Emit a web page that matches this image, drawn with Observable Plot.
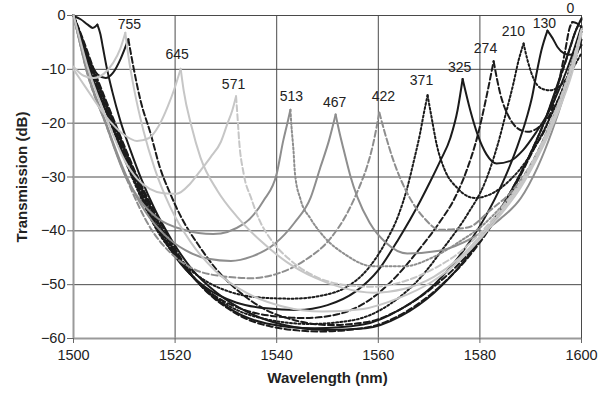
<!DOCTYPE html>
<html>
<head>
<meta charset="utf-8">
<script src="https://cdn.jsdelivr.net/npm/d3@7"></script>
<script src="https://cdn.jsdelivr.net/npm/@observablehq/plot@0.6"></script>
<style>
  html, body { margin: 0; padding: 0; background: #fff; }
  #chart { width: 613px; height: 393px; }
</style>
</head>
<body>
<div id="chart"></div>
<script>
// ---- axis ticks ----
const wavelengthTicks = [1500, 1520, 1540, 1560, 1580, 1600];
const dbTicks = [-60, -50, -40, -30, -20, -10, 0];

// ---- peak labels (strain values) and where they are written ----
const peakLabels = ["0", "130", "210", "274", "325", "371", "422", "467", "513", "571", "645", "755"];
const labelX = [1597.8, 1592.7, 1586.6, 1581.1, 1576.0, 1568.5, 1561.0, 1551.4, 1542.9, 1531.5, 1520.4, 1511.0];
const labelY = [1.3, -1.5, -3.0, -6.2, -9.6, -12.1, -15.0, -16.1, -15.0, -12.8, -7.2, -1.7];

// ---- transmission spectra, [wavelength nm, dB]; left and right of each cusp ----
const x2_L = [[1500,-0.1],[1501.4,-0.7],[1502.8,-1.7],[1503.8,-2.3],[1504.7,-1.7]];
const x2_R = [[1504.7,-1.7],[1505.3,-3.5],[1505.8,-6],[1506.5,-9.5],[1507.6,-14],[1509.2,-19.5],[1511.2,-25],[1513.4,-30.5],[1516,-36],[1519.2,-41.5],[1523.2,-47],[1528.2,-51.5],[1534.5,-55.2],[1541.5,-57.5],[1549.5,-58.4],[1557.5,-58.1],[1564.5,-55.8],[1571,-51.5],[1577,-45.5],[1582,-39],[1586.2,-32.5],[1589.8,-26],[1592.8,-19.5],[1595.2,-13],[1597.2,-7.5],[1598.8,-3],[1600,-0.5]];

const x1_L = [[1500,0],[1501.5,-4],[1503.2,-8.5],[1504.8,-11],[1506.3,-11.6],[1507.8,-10.6],[1509.3,-8],[1510.8,-4.4]];
const x1_R = [[1510.8,-4.4],[1511.8,-9.6],[1513.2,-15.8],[1515.2,-22],[1517,-28.2],[1519,-33],[1521.5,-38],[1524.5,-42.5],[1528,-47],[1532,-50.8],[1537.5,-54.5],[1543.5,-56.6],[1550.5,-57.5],[1557.5,-57],[1564.5,-54.5],[1571,-50.3],[1577,-45],[1582,-39],[1586.5,-32],[1590,-25.5],[1593,-19],[1595.5,-12.5],[1597.6,-6.5],[1599,-2.5],[1600,-0.8]];

const s0_L = [[1500,0],[1501.7,-4],[1504,-10],[1508.2,-20],[1512.6,-30],[1518,-40],[1524,-49],[1531,-54.8],[1539,-57.8],[1548.5,-58.7],[1558,-57.9],[1565.5,-55],[1572.5,-50],[1578.5,-44],[1583,-38],[1587,-31.5],[1590.5,-25],[1593.5,-19.5],[1595.5,-12.5],[1596.8,-6.5],[1597.6,-2.5],[1598.2,-1.2]];
const s0_R = [[1598.2,-1.2],[1599,-1.4],[1600,-2.2]];

const s130_L = [[1500,0],[1501.6,-4],[1503.8,-10],[1508,-20],[1512.4,-30],[1517.6,-40],[1523.5,-48.5],[1530,-54],[1538,-57.2],[1547.5,-58.1],[1557,-57.4],[1564.5,-54.5],[1571,-50],[1576.5,-44],[1581,-37.5],[1584.5,-31],[1587.3,-24.5],[1589.2,-19],[1590.3,-15],[1591.1,-11],[1592.1,-6.5],[1593.3,-2.8]];
const s130_R = [[1593.3,-2.8],[1594.3,-4.2],[1595.3,-5.9],[1596.5,-7],[1597.8,-7.3],[1599,-6.8],[1600,-5.5]];

const s210_L = [[1500,0],[1501.5,-4],[1503.6,-10],[1507.8,-20],[1512.2,-30],[1517.3,-40],[1523,-48],[1529,-53],[1536,-56],[1546.5,-57.3],[1555,-56.6],[1562,-53.8],[1568,-49],[1573,-43],[1577.5,-37],[1581,-31],[1583.5,-24],[1585.3,-17.5],[1586.6,-12.6],[1587.6,-8.4],[1588.6,-5.2]];
const s210_R = [[1588.6,-5.2],[1589.4,-8.4],[1590.6,-11.8],[1592,-13.5],[1593.7,-13.9],[1595.3,-13.4],[1597.2,-11.5],[1598.8,-9],[1600,-7]];

const s274_L = [[1500,0],[1501.4,-4],[1503.4,-10],[1507.6,-20],[1512,-30],[1517,-40],[1522,-47],[1527,-51.5],[1533,-54.5],[1539,-55.8],[1545.5,-56.2],[1552,-55.5],[1558,-53],[1563.5,-48.5],[1568,-43.5],[1572,-38.5],[1575,-34],[1577.5,-28.5],[1579.5,-22.5],[1581.2,-15.5],[1582.7,-8.5]];
const s274_R = [[1582.7,-8.5],[1584,-14.5],[1585.8,-19],[1587.5,-21],[1589.4,-21.6],[1591.5,-20.8],[1593.5,-18.8],[1595.5,-15.5],[1597.5,-11.5],[1599,-7.5],[1600,-4.5]];

const s325_L = [[1500,0],[1501.3,-4],[1503.2,-10],[1507.4,-20],[1511.7,-30],[1516.8,-40],[1521,-46],[1526,-50.5],[1532,-53.3],[1538,-54.4],[1544,-54.7],[1550,-53.8],[1555.5,-51.3],[1560,-47.3],[1564,-41.5],[1568.3,-34.4],[1570.3,-30.7],[1572.2,-27],[1574.2,-22.7],[1575.6,-17.6],[1576.6,-11.8]];
const s325_R = [[1576.6,-11.8],[1578.1,-17.6],[1579.5,-22],[1581.3,-25.8],[1583.3,-27.5],[1586,-27],[1588.5,-25],[1591,-21.8],[1593.5,-18],[1596,-12.8],[1598,-7.8],[1599.5,-3.5],[1600,-2]];

const s371_L = [[1500,0],[1501.3,-4],[1503.2,-10],[1507.3,-20],[1511.5,-30],[1516.5,-40],[1520.5,-45],[1525.5,-49],[1531,-51.4],[1537,-52.4],[1543,-52.6],[1549,-52],[1554,-50.3],[1558,-47],[1561.5,-42],[1564,-37],[1565.7,-32],[1567,-27],[1568.2,-22],[1569,-18],[1569.7,-14.8]];
const s371_R = [[1569.7,-14.8],[1570.5,-19],[1571.5,-24],[1573,-28.5],[1575.5,-32],[1579,-33.9],[1582.5,-33],[1586,-30.5],[1589.5,-26.5],[1592.5,-21.5],[1595,-16.5],[1597.5,-10.5],[1599.3,-5],[1600,-2.5]];

const s422_L = [[1500,0],[1501,-4],[1502.5,-10],[1506.3,-20],[1510.3,-30],[1515.5,-40],[1519,-44],[1523,-46.8],[1529,-48.4],[1535,-48.8],[1540,-48],[1545.5,-45.5],[1550.5,-41.5],[1554,-36.5],[1556.2,-32],[1557.8,-28],[1559,-23.8],[1560.2,-18]];
const s422_R = [[1560.2,-18],[1561.2,-21.5],[1563,-27],[1565.7,-33],[1569,-37.6],[1572.2,-39.8],[1577.6,-39.4],[1582,-36.2],[1586.6,-32.3],[1589.8,-28],[1592.8,-22.5],[1595.3,-17],[1597.6,-11],[1599.3,-5.5],[1600,-3]];

const s467_L = [[1500,0],[1501,-4],[1502.6,-10],[1506.4,-20],[1510.5,-30],[1514.2,-36.5],[1518,-40.8],[1522,-43.6],[1526.5,-45.2],[1531,-45.6],[1535,-44.8],[1539.5,-42.5],[1543.5,-38.5],[1546.7,-33.8],[1548.6,-28.2],[1550.3,-23.2],[1551.6,-18.4]];
const s467_R = [[1551.6,-18.4],[1552.3,-21.5],[1553.2,-25],[1554.5,-29.8],[1555.9,-33.8],[1558.3,-38.5],[1561.5,-42.2],[1565.7,-44.2],[1572,-43.7],[1578.7,-41.2],[1584,-37.8],[1588,-34],[1591.3,-28.3],[1594.2,-21.5],[1596.5,-15],[1598.5,-8.5],[1600,-3]];

const s513_L = [[1500,0],[1501,-4],[1502.5,-10],[1506.3,-20],[1510.3,-30],[1513,-34.2],[1516.5,-37.6],[1521.7,-39.8],[1527.5,-40.6],[1533.5,-38.7],[1537.4,-34.4],[1540,-29.4],[1541.3,-23.2],[1542.1,-20],[1542.7,-17.5]];
const s513_R = [[1542.7,-17.5],[1542.9,-20.5],[1543.3,-25],[1543.6,-29.4],[1544.7,-34.2],[1546.7,-37.8],[1549.5,-41.3],[1553.5,-44.4],[1559,-46.6],[1565,-46.6],[1571,-44.8],[1576,-42],[1580.5,-39],[1584.2,-35.5],[1587.6,-31.5],[1590.6,-26.8],[1593.2,-21.5],[1595.6,-16],[1597.6,-10.5],[1599.2,-5.5],[1600,-3]];

const s571_L = [[1500,0],[1501,-3.5],[1502.6,-9],[1505,-15.5],[1507.5,-21.5],[1510,-26.8],[1512.5,-30.3],[1515,-32.2],[1517.7,-33],[1520.3,-33.1],[1523,-31.2],[1525,-28.8],[1527,-26.3],[1529,-23.5],[1530.3,-20.1],[1531.3,-17.5],[1532,-15]];
const s571_R = [[1532,-15],[1532.3,-19],[1532.6,-23.2],[1533.5,-29.4],[1535,-34],[1536.5,-37.8],[1539,-41.8],[1542.5,-45.3],[1547,-48.2],[1553,-50],[1559,-50.4],[1565,-49.4],[1571,-47],[1576,-44],[1580.5,-40],[1584.5,-35.5],[1588,-31],[1591,-26],[1593.5,-21],[1595.8,-15.5],[1597.8,-10],[1599.3,-5],[1600,-2.5]];

const s645_L = [[1500,-10],[1502.5,-13.5],[1505,-17],[1507.5,-20],[1510,-22.2],[1512.5,-23.3],[1514.8,-22.8],[1516.8,-20.5],[1518.6,-16.8],[1519.8,-13.8],[1521.1,-9.9]];
const s645_R = [[1521.1,-9.9],[1521.7,-14],[1523.2,-20.5],[1525,-26.4],[1528.3,-32.5],[1532.3,-37.5],[1537,-42],[1542,-45.8],[1547.5,-48.7],[1553,-50.6],[1559,-51.5],[1565,-50.8],[1571,-48.5],[1576,-45],[1580.5,-40.5],[1584.5,-36],[1588,-31.5],[1591,-26.5],[1593.7,-21],[1596,-15.5],[1598,-10],[1599.5,-4.5],[1600,-2.5]];

const s755_L = [[1500,-9.5],[1502,-11.2],[1504,-11.6],[1506,-10.8],[1507.8,-8.8],[1509.2,-6.2],[1510.2,-3.2]];
const s755_R = [[1510.2,-3.2],[1510.8,-7.5],[1512,-14],[1513.8,-21.5],[1516,-28.5],[1519,-35.5],[1523,-42],[1528,-47.5],[1534,-51.5],[1541,-54],[1549,-55],[1557,-54.5],[1564,-52.5],[1570.5,-49.5],[1576,-45.5],[1580.5,-41],[1584.5,-36.5],[1588,-32],[1591,-27],[1593.8,-21.5],[1596.2,-16],[1598.2,-10.5],[1599.6,-5],[1600,-3.5]];

// ---- styling (kept out of the data) ----
const BLACK = "#1b1b1b", GRAY = "#8e8e8e", LIGHT = "#c6c6c6";
const DASH = "6,3", DOT = "2,2.2", SOLID = null;

const branches = [
  [x2_L, BLACK, SOLID], [x2_R, BLACK, SOLID],
  [x1_L, BLACK, SOLID], [x1_R, BLACK, DASH],
  [s0_L, BLACK, DASH], [s0_R, BLACK, DASH],
  [s130_L, BLACK, SOLID], [s130_R, BLACK, SOLID],
  [s210_L, BLACK, DOT], [s210_R, BLACK, DOT],
  [s274_L, BLACK, DASH], [s274_R, BLACK, DASH],
  [s325_L, BLACK, SOLID], [s325_R, BLACK, SOLID],
  [s371_L, BLACK, DOT], [s371_R, BLACK, DOT],
  [s422_L, GRAY, DASH], [s422_R, GRAY, DASH],
  [s467_L, GRAY, SOLID], [s467_R, GRAY, SOLID],
  [s513_L, GRAY, SOLID], [s513_R, GRAY, DOT],
  [s571_L, LIGHT, SOLID], [s571_R, LIGHT, DASH],
  [s645_L, LIGHT, SOLID], [s645_R, LIGHT, SOLID],
  [s755_L, LIGHT, SOLID], [s755_R, LIGHT, SOLID]
];

const lineMarks = branches.map(([pts, color, dash]) =>
  Plot.line(pts, {
    x: d => d[0], y: d => d[1],
    stroke: color, strokeWidth: 2, strokeDasharray: dash,
    curve: "monotone-x"
  })
);

const labelRows = peakLabels.map((t, i) => ({t, x: labelX[i], y: labelY[i]}));

const chart = Plot.plot({
  width: 613,
  height: 393,
  marginLeft: 73,
  marginRight: 32,
  marginTop: 15,
  marginBottom: 55,
  style: {fontFamily: "'Liberation Sans', Arial, sans-serif", fontSize: "14px", background: "#fff", color: "#222"},
  x: {domain: [1500, 1600]},
  y: {domain: [-60, 0]},
  marks: [
    Plot.gridX(wavelengthTicks, {stroke: "#4a4a4a", strokeOpacity: 1, strokeWidth: 1}),
    Plot.gridY(dbTicks, {stroke: "#4a4a4a", strokeOpacity: 1, strokeWidth: 1}),
    Plot.ruleX([1500], {stroke: "#9a9a9a", strokeWidth: 2}),
    Plot.ruleY([-60], {stroke: "#9a9a9a", strokeWidth: 2}),
    Plot.axisX(wavelengthTicks, {tickSize: 5, tickPadding: 6, label: null, fontSize: 14.5, stroke: "#666", tickFormat: d => String(d)}),
    Plot.axisY(dbTicks, {tickSize: 6, tickPadding: 2, label: null, fontSize: 14.5, stroke: "#666"}),
    ...lineMarks,
    Plot.text(labelRows, {x: "x", y: "y", text: "t", fontSize: 14, fill: "#222", lineAnchor: "middle"}),
    Plot.text(["Wavelength (nm)"], {frameAnchor: "bottom", dy: 40, lineAnchor: "middle", fontWeight: "bold", fontSize: 15, fill: "#222"}),
    Plot.text(["Transmission (dB)"], {frameAnchor: "left", dx: -51, rotate: -90, textAnchor: "middle", lineAnchor: "middle", fontWeight: "bold", fontSize: 15, fill: "#222"})
  ]
});
document.getElementById("chart").appendChild(chart);
</script>
</body>
</html>
